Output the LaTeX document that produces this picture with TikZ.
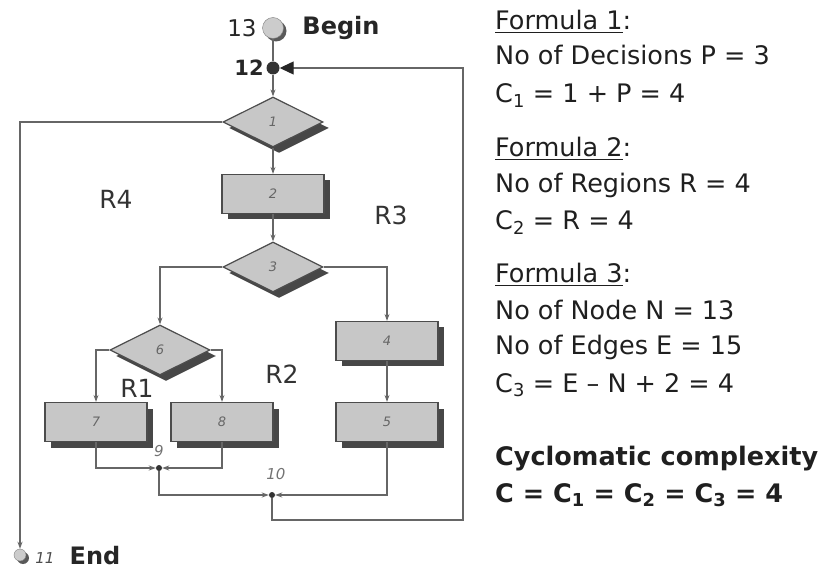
\documentclass[tikz,border=0pt]{standalone}
\usepackage{fontspec}
\setmainfont{DejaVu Sans}
\usetikzlibrary{shapes.geometric,shadows,arrows.meta}

\begin{document}
\begin{tikzpicture}[x=1pt, y=-1pt,
		shapebase/.style={draw=black!70, line width=1.2pt, fill=black!22, inner sep=0pt, text=black!60,
			font=\fontsize{13}{13}\selectfont\itshape,
			general shadow={fill=black!72, shadow xshift=6pt, shadow yshift=-6pt}},
		decision/.style={shapebase, diamond, minimum width=100pt, minimum height=50pt},
		process/.style={shapebase, rectangle, minimum width=102pt, minimum height=39pt},
		terminal/.style={circle, draw=black!50, fill=black!20, inner sep=0pt,
			general shadow={fill=black!65, shadow xshift=3pt, shadow yshift=-3pt}},
		junction/.style={circle, fill=black!80, inner sep=0pt, minimum size=6pt},
		line/.style={draw=black!60, line width=1.2pt},
		flow/.style={line, -{Stealth[length=7pt,width=5pt]}},
		region/.style={font=\fontsize{25}{25}\selectfont, text=black!80},
		small/.style={font=\fontsize{15}{15}\selectfont\itshape, text=black!55},
		formula/.style={anchor=base west, inner sep=0pt, font=\fontsize{25.5}{25.5}\selectfont, text=black!88}]
	\useasboundingbox (0,0) rectangle (825,569);

	% graph
	\node[terminal, minimum size=21pt] (begin) at (273,28) {};
	\node[font=\fontsize{23}{23}\selectfont, text=black!85] (l13) at (242,28) {13};
	\node[font=\fontsize{24}{24}\selectfont\bfseries, text=black!85] (begintxt) at (341,28) {Begin};
	\node[junction, minimum size=13pt] (n12) at (273,68) {};
	\node[font=\fontsize{21}{21}\selectfont\bfseries, text=black!85] (l12) at (249,68) {12};

	\node[decision] (d1) at (273,122) {1};
	\node[process] (b2) at (273,194) {2};
	\node[decision] (d3) at (273,267) {3};
	\node[decision] (d6) at (160,350) {6};
	\node[process] (b4) at (387,341) {4};
	\node[process] (b7) at (96,422) {7};
	\node[process] (b8) at (222,422) {8};
	\node[process] (b5) at (387,422) {5};
	\node[junction] (n9) at (159,468) {};
	\node[small] (l9) at (159,451) {9};
	\node[junction] (n10) at (272,495) {};
	\node[small] (l10) at (276,474) {10};
	\coordinate (back) at (463,520);

	\node[terminal, minimum size=12pt] (end) at (20,555) {};
	\node[small, text=black!70, anchor=base, inner sep=0pt] (l11) at (45,563) {11};
	\node[font=\fontsize{24}{24}\selectfont\bfseries, text=black!85, anchor=base, inner sep=0pt] (endtxt) at (95,564) {End};

	\draw[line] (begin) -- (n12);
	\draw[flow] (n12) -- (d1);
	\draw[flow] (d1) -- (b2);
	\draw[flow] (b2) -- (d3);
	\draw[flow] (d1.west) -| (end);
	\draw[flow] (d3.west) -| (d6.north);
	\draw[flow] (d3.east) -| (b4.north);
	\draw[flow] (b4) -- (b5);
	\draw[flow] (d6.west) -| (b7.north);
	\draw[flow] (d6.east) -| (b8.north);
	\draw[flow] (b7.south) |- (n9);
	\draw[flow] (b8.south) |- (n9);
	\draw[flow] (n9) |- (n10);
	\draw[flow] (b5.south) |- (n10);
	\draw[line, -{Triangle[length=14pt,width=13pt,color=black!85]}] (n10) |- (back) |- (n12);

	% regions
	\node[region] (r4) at (116,199) {R4};
	\node[region] (r3) at (391,215) {R3};
	\node[region] (r2) at (282,374) {R2};
	\node[region] (r1) at (137,388) {R1};

	% formulas
	\node[formula] (f1) at (495,30) {\underline{Formula 1}:};
	\node[formula] (f1a) at (495,65) {No of Decisions P = 3};
	\node[formula] (f1b) at (495,103) {C\textsubscript{1} = 1 + P = 4};
	\node[formula] (f2) at (495,157) {\underline{Formula 2}:};
	\node[formula] (f2a) at (495,193) {No of Regions R = 4};
	\node[formula] (f2b) at (495,230) {C\textsubscript{2} = R = 4};
	\node[formula] (f3) at (495,283) {\underline{Formula 3}:};
	\node[formula] (f3a) at (495,320) {No of Node N = 13};
	\node[formula] (f3b) at (495,355) {No of Edges E = 15};
	\node[formula] (f3c) at (495,392) {C\textsubscript{3} = E – N + 2 = 4};
	\node[formula, font=\fontsize{25.5}{25.5}\selectfont\bfseries] (cc) at (495,465) {Cyclomatic complexity};
	\node[formula, font=\fontsize{25.5}{25.5}\selectfont\bfseries] (cc2) at (495,502) {C = C\textsubscript{1} = C\textsubscript{2} = C\textsubscript{3} = 4};
\end{tikzpicture}
\end{document}
